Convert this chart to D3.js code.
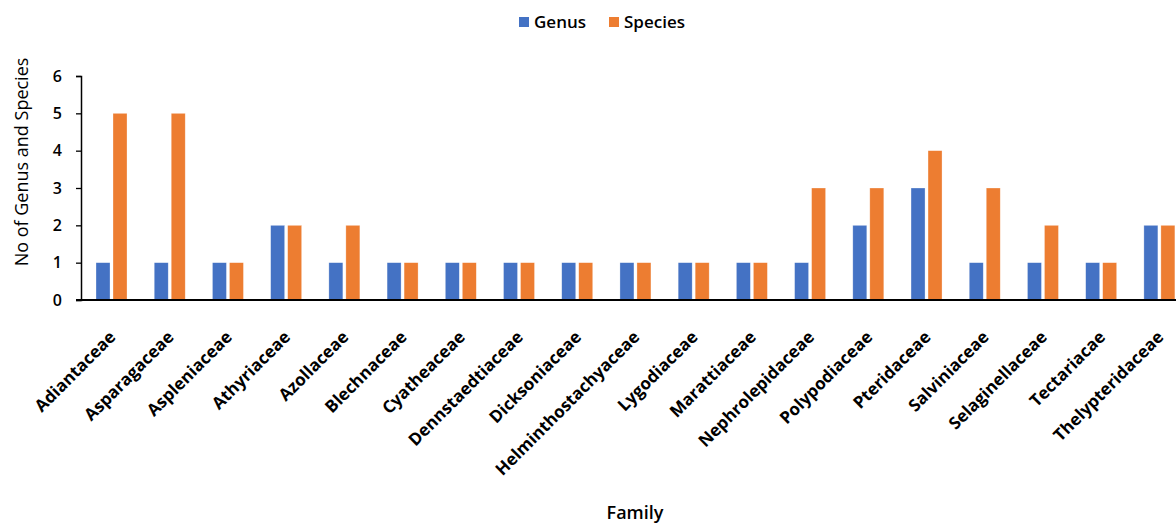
<!DOCTYPE html>
<html><head><meta charset="utf-8">
<script src="https://cdn.jsdelivr.net/npm/d3@7"></script>
<style>body{margin:0;background:#fff}svg{display:block}</style>
</head><body>
<svg id="c" width="1176" height="524"></svg>
<script>
const families = ["Adiantaceae","Asparagaceae","Aspleniaceae","Athyriaceae","Azollaceae","Blechnaceae","Cyatheaceae","Dennstaedtiaceae","Dicksoniaceae","Helminthostachyaceae","Lygodiaceae","Marattiaceae","Nephrolepidaceae","Polypodiaceae","Pteridaceae","Salviniaceae","Selaginellaceae","Tectariacae","Thelypteridaceae"];
const genus   = [1,1,1,2,1,1,1,1,1,1,1,1,1,2,3,1,1,1,2];
const species = [5,5,1,2,2,1,1,1,1,1,1,1,3,3,4,3,2,1,2];
const seriesNames = ["Genus","Species"];
const colors = ["#4472C4","#ED7D31"];
const yTicks = [0,1,2,3,4,5,6];

const svg = d3.select("#c");
const font = "'Open Sans', sans-serif";
const x = d3.scaleBand().domain(families).range([82.4, 1188.5]).paddingInner(0).paddingOuter(0);
const bw = x.bandwidth();
const xs = d3.scaleBand().domain(seriesNames).range([bw/2 - 15.5, bw/2 + 15.5]).paddingInner(3/17).paddingOuter(0);
const y = d3.scaleLinear().domain([0,6]).range([300, 76]);

const rows = families.map((f,i)=>({f, vals:[genus[i], species[i]]}));
const g = svg.append("g");
g.selectAll("g.cat").data(rows).join("g").attr("class","cat")
  .attr("transform", d=>`translate(${x(d.f)},0)`)
  .selectAll("rect").data(d=>d.vals.map((v,k)=>({k,v}))).join("rect")
  .attr("x", d=>xs(seriesNames[d.k]))
  .attr("width", xs.bandwidth())
  .attr("y", d=>y(d.v))
  .attr("height", d=>y(0)-y(d.v))
  .attr("fill", d=>colors[d.k])
  .attr("stroke","#fff").attr("stroke-width",0.6).attr("stroke-opacity",0.5);

// y axis
const ya = svg.append("g").attr("transform","translate(81,0)")
  .call(d3.axisLeft(y).tickValues(yTicks).tickSize(5).tickPadding(14).tickFormat(d3.format("d")));
ya.select(".domain").attr("stroke","#000").attr("stroke-width",1.5);
ya.selectAll(".tick line").attr("stroke","#000").attr("stroke-width",1.3);
ya.selectAll("text").attr("font-family",font).attr("font-size",16).attr("font-weight",600).attr("fill","#000");

// x baseline
svg.append("line").attr("x1",76).attr("x2",1176).attr("y1",y(0)).attr("y2",y(0))
  .attr("stroke","#000").attr("stroke-width",2);

// x labels
const xa = svg.append("g").attr("transform",`translate(0,${y(0)})`)
  .call(d3.axisBottom(x).tickSize(0).tickPadding(0));
xa.select(".domain").remove();
xa.selectAll(".tick text")
  .attr("font-family",font).attr("font-size",17).attr("font-weight",700).attr("fill","#000")
  .attr("text-anchor","end")
  .attr("transform","translate(1,34) rotate(-45)")
  .attr("dy","0.35em").attr("y",0);

// axis titles
svg.append("text").attr("transform","translate(28,162) rotate(-90)")
  .attr("text-anchor","middle").attr("font-family",font).attr("font-size",18).attr("fill","#000")
  .text("No of Genus and Species");
svg.append("text").attr("x",635).attr("y",519)
  .attr("text-anchor","middle").attr("font-family",font).attr("font-size",18).attr("font-weight",600).attr("fill","#000")
  .text("Family");

// legend
const lg = svg.append("g");
const lx = [519, 609];
seriesNames.forEach((s,i)=>{
  lg.append("rect").attr("x",lx[i]).attr("y",17).attr("width",10).attr("height",10).attr("fill",colors[i]);
  lg.append("text").attr("x",lx[i]+15).attr("y",28).attr("font-family",font).attr("font-size",17)
    .attr("font-weight",600).attr("fill","#000").text(s);
});
</script>
</body></html>
